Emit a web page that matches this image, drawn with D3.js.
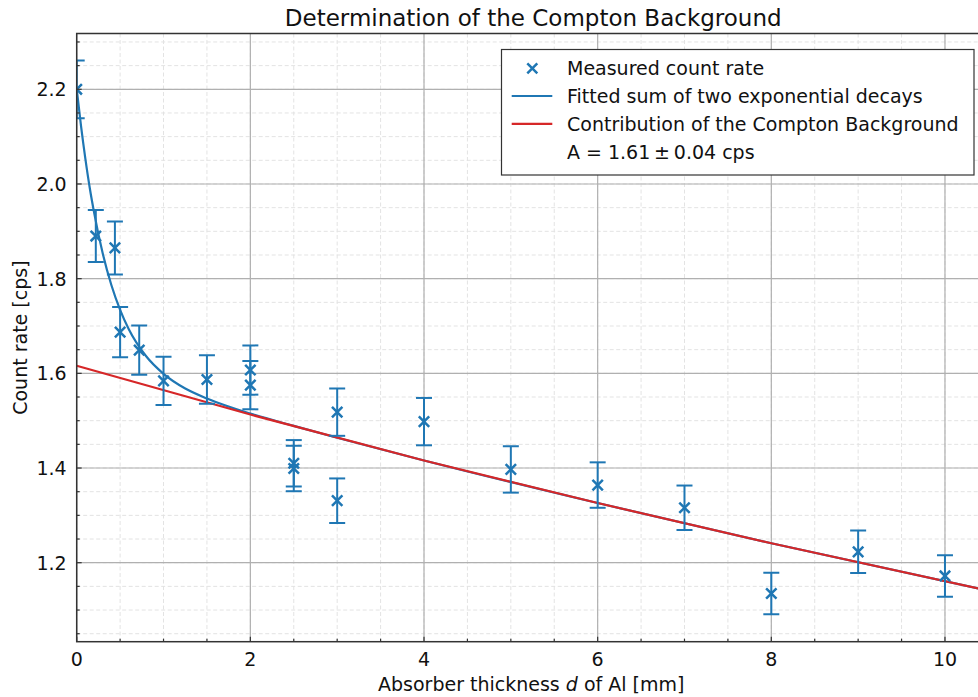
<!DOCTYPE html>
<html>
<head>
<meta charset="utf-8">
<script src="https://cdn.jsdelivr.net/npm/d3@7/dist/d3.min.js"></script>
<style>
  html, body { margin: 0; padding: 0; background: #fff; }
  svg { display: block; font-family: "DejaVu Sans", sans-serif; }
</style>
</head>
<body>
<div id="chart"></div>
<script>
(function () {
  'use strict';

  // measured points: absorber thickness [mm], count rate [cps], error [cps]
  var thickness = [0, 0.22, 0.44, 0.5, 0.72, 1.0, 1.5, 2.0, 2.0, 2.5, 2.5, 3.0, 3.0, 4, 5, 6, 7, 8, 9, 10];
  var rate = [2.200, 1.890, 1.865, 1.687, 1.649, 1.584, 1.587, 1.607, 1.575, 1.410, 1.399,
              1.518, 1.331, 1.498, 1.397, 1.364, 1.316, 1.135, 1.223, 1.172];
  var rateErr = [0.061, 0.055, 0.056, 0.053, 0.052, 0.051, 0.051, 0.052, 0.051, 0.049, 0.048,
                 0.050, 0.047, 0.050, 0.049, 0.048, 0.047, 0.044, 0.045, 0.044];

  // fitted curve (sum of two exponential decays)
  var fitX = [0, 0.05, 0.1, 0.15, 0.2, 0.3, 0.4, 0.5, 0.6, 0.8, 1.0, 1.25, 1.5, 2, 2.5, 3, 4, 6, 8, 10.4];
  var fitY = [2.201, 2.122, 2.053, 1.992, 1.940, 1.853, 1.786, 1.734, 1.693, 1.636, 1.599, 1.568,
              1.547, 1.515, 1.489, 1.464, 1.416, 1.326, 1.241, 1.145];

  // Compton background contribution
  var bgX = [0, 2, 4, 6, 8, 10.4];
  var bgY = [1.616, 1.513, 1.416, 1.326, 1.241, 1.145];

  var xTicks = [0, 2, 4, 6, 8, 10];
  var yTicks = [1.2, 1.4, 1.6, 1.8, 2.0, 2.2];

  var legendLabels = ['Measured count rate', 'Fitted sum of two exponential decays',
                      'Contribution of the Compton Background', 'A = 1.61\u2009\u00b1\u20090.04 cps'];

  var W = 978, H = 697,
      left = 76.7, right = 979.7, top = 33.5, bottom = 641.7,
      blue = '#1f77b4', red = '#d62728';

  var x = d3.scaleLinear().domain([0, 10.4]).range([left, right]);
  var y = d3.scaleLinear().domain([1.2, 2.2]).range([562.7, 89.3]);
  var yMin = y.invert(bottom), yMax = y.invert(top);

  var svg = d3.select('#chart').append('svg')
    .attr('width', W).attr('height', H);

  svg.append('clipPath').attr('id', 'clip')
    .append('rect')
    .attr('x', left).attr('y', top)
    .attr('width', right - left).attr('height', bottom - top);

  var xMinor = d3.range(0, 10.41, 0.5);
  var yMinor = d3.range(1.05, 2.3001, 0.05).filter(function (v) { return v >= yMin && v <= yMax; });

  var grid = svg.append('g').attr('clip-path', 'url(#clip)');
  grid.selectAll('line.xminor').data(xMinor).enter().append('line')
    .attr('x1', function (d) { return x(d); }).attr('x2', function (d) { return x(d); })
    .attr('y1', top).attr('y2', bottom)
    .attr('stroke', '#e3e3e3').attr('stroke-width', 1).attr('stroke-dasharray', '4,2.5');
  grid.selectAll('line.yminor').data(yMinor).enter().append('line')
    .attr('y1', function (d) { return y(d); }).attr('y2', function (d) { return y(d); })
    .attr('x1', left).attr('x2', right)
    .attr('stroke', '#e3e3e3').attr('stroke-width', 1).attr('stroke-dasharray', '4,2.5');
  grid.selectAll('line.xmajor').data(xTicks).enter().append('line')
    .attr('x1', function (d) { return x(d); }).attr('x2', function (d) { return x(d); })
    .attr('y1', top).attr('y2', bottom)
    .attr('stroke', '#b0b0b0').attr('stroke-width', 1.2);
  grid.selectAll('line.ymajor').data(yTicks).enter().append('line')
    .attr('y1', function (d) { return y(d); }).attr('y2', function (d) { return y(d); })
    .attr('x1', left).attr('x2', right)
    .attr('stroke', '#b0b0b0').attr('stroke-width', 1.2);

  var plot = svg.append('g').attr('clip-path', 'url(#clip)');

  var line = d3.line()
    .x(function (d) { return x(d[0]); })
    .y(function (d) { return y(d[1]); })
    .curve(d3.curveMonotoneX);

  plot.append('path')
    .attr('d', line(d3.zip(fitX, fitY)))
    .attr('fill', 'none').attr('stroke', blue).attr('stroke-width', 2.2);
  plot.append('path')
    .attr('d', line(d3.zip(bgX, bgY)))
    .attr('fill', 'none').attr('stroke', red).attr('stroke-width', 2.2);

  var pts = d3.range(thickness.length).map(function (i) {
    return {x: thickness[i], y: rate[i], e: rateErr[i]};
  });

  var eb = plot.selectAll('g.eb').data(pts).enter().append('g')
    .attr('stroke', blue).attr('stroke-width', 2).attr('fill', 'none');
  eb.append('line')
    .attr('x1', function (d) { return x(d.x); }).attr('x2', function (d) { return x(d.x); })
    .attr('y1', function (d) { return y(d.y - d.e); }).attr('y2', function (d) { return y(d.y + d.e); });
  eb.append('line')
    .attr('x1', function (d) { return x(d.x) - 8; }).attr('x2', function (d) { return x(d.x) + 8; })
    .attr('y1', function (d) { return y(d.y + d.e); }).attr('y2', function (d) { return y(d.y + d.e); });
  eb.append('line')
    .attr('x1', function (d) { return x(d.x) - 8; }).attr('x2', function (d) { return x(d.x) + 8; })
    .attr('y1', function (d) { return y(d.y - d.e); }).attr('y2', function (d) { return y(d.y - d.e); });

  function cross(cx, cy, s) {
    return 'M' + (cx - s) + ',' + (cy - s) + 'L' + (cx + s) + ',' + (cy + s) +
           'M' + (cx - s) + ',' + (cy + s) + 'L' + (cx + s) + ',' + (cy - s);
  }

  plot.selectAll('path.mark').data(pts).enter().append('path')
    .attr('d', function (d) { return cross(x(d.x), y(d.y), 5.2); })
    .attr('stroke', blue).attr('stroke-width', 2.5).attr('fill', 'none');

  // spines
  svg.append('rect')
    .attr('x', left).attr('y', top)
    .attr('width', right - left + 5).attr('height', bottom - top)
    .attr('fill', 'none').attr('stroke', '#333').attr('stroke-width', 1.5);

  // ticks (pointing in)
  var ticks = svg.append('g').attr('stroke', '#333');
  ticks.selectAll('line.xt').data(xMinor).enter().append('line')
    .attr('x1', function (d) { return x(d); }).attr('x2', function (d) { return x(d); })
    .attr('y1', bottom).attr('y2', function (d) { return xTicks.indexOf(d) >= 0 ? bottom - 5 : bottom - 3; })
    .attr('stroke-width', 1.2);
  ticks.selectAll('line.yt').data(yMinor).enter().append('line')
    .attr('y1', function (d) { return y(d); }).attr('y2', function (d) { return y(d); })
    .attr('x1', left).attr('x2', function (d) {
      var major = yTicks.some(function (t) { return Math.abs(t - d) < 1e-6; });
      return major ? left + 5 : left + 3;
    })
    .attr('stroke-width', 1.2);

  var fs = 19;
  svg.selectAll('text.xl').data(xTicks).enter().append('text')
    .attr('x', function (d) { return x(d); }).attr('y', bottom + 24.5)
    .attr('text-anchor', 'middle').attr('font-size', fs).attr('fill', '#111')
    .text(function (d) { return d; });
  svg.selectAll('text.yl').data(yTicks).enter().append('text')
    .attr('x', left - 10).attr('y', function (d) { return y(d) + 7; })
    .attr('text-anchor', 'end').attr('font-size', fs).attr('fill', '#111')
    .text(function (d) { return d.toFixed(1); });

  var xl = svg.append('text')
    .attr('x', (left + right) / 2 + 3).attr('y', 690.5)
    .attr('text-anchor', 'middle').attr('font-size', fs).attr('fill', '#111');
  xl.append('tspan').text('Absorber thickness ');
  xl.append('tspan').attr('font-style', 'italic').text('d');
  xl.append('tspan').text(' of Al [mm]');

  svg.append('text')
    .attr('transform', 'translate(27,' + ((top + bottom) / 2) + ') rotate(-90)')
    .attr('text-anchor', 'middle').attr('font-size', fs).attr('fill', '#111')
    .text('Count rate [cps]');

  svg.append('text')
    .attr('x', (left + right) / 2 + 5).attr('y', 25.5)
    .attr('text-anchor', 'middle').attr('font-size', 23).attr('fill', '#111')
    .text('Determination of the Compton Background');

  // legend
  var lg = svg.append('g');
  lg.append('rect')
    .attr('x', 501.5).attr('y', 49.5).attr('width', 472.5).attr('height', 125.5)
    .attr('fill', '#fff').attr('stroke', '#333').attr('stroke-width', 1.2);
  var rowY = [68.3, 96, 123.8, 151.6];
  lg.append('path').attr('d', cross(532.3, rowY[0], 5))
    .attr('stroke', blue).attr('stroke-width', 2.5).attr('fill', 'none');
  lg.append('line').attr('x1', 511.7).attr('x2', 552.3).attr('y1', rowY[1]).attr('y2', rowY[1])
    .attr('stroke', blue).attr('stroke-width', 2.2);
  lg.append('line').attr('x1', 511.7).attr('x2', 552.3).attr('y1', rowY[2]).attr('y2', rowY[2])
    .attr('stroke', red).attr('stroke-width', 2.2);
  lg.selectAll('text').data(legendLabels).enter().append('text')
    .attr('x', 567).attr('y', function (d, i) { return rowY[i] + 7; })
    .attr('font-size', fs).attr('fill', '#111')
    .text(function (d) { return d; });
}());
</script>
</body>
</html>
